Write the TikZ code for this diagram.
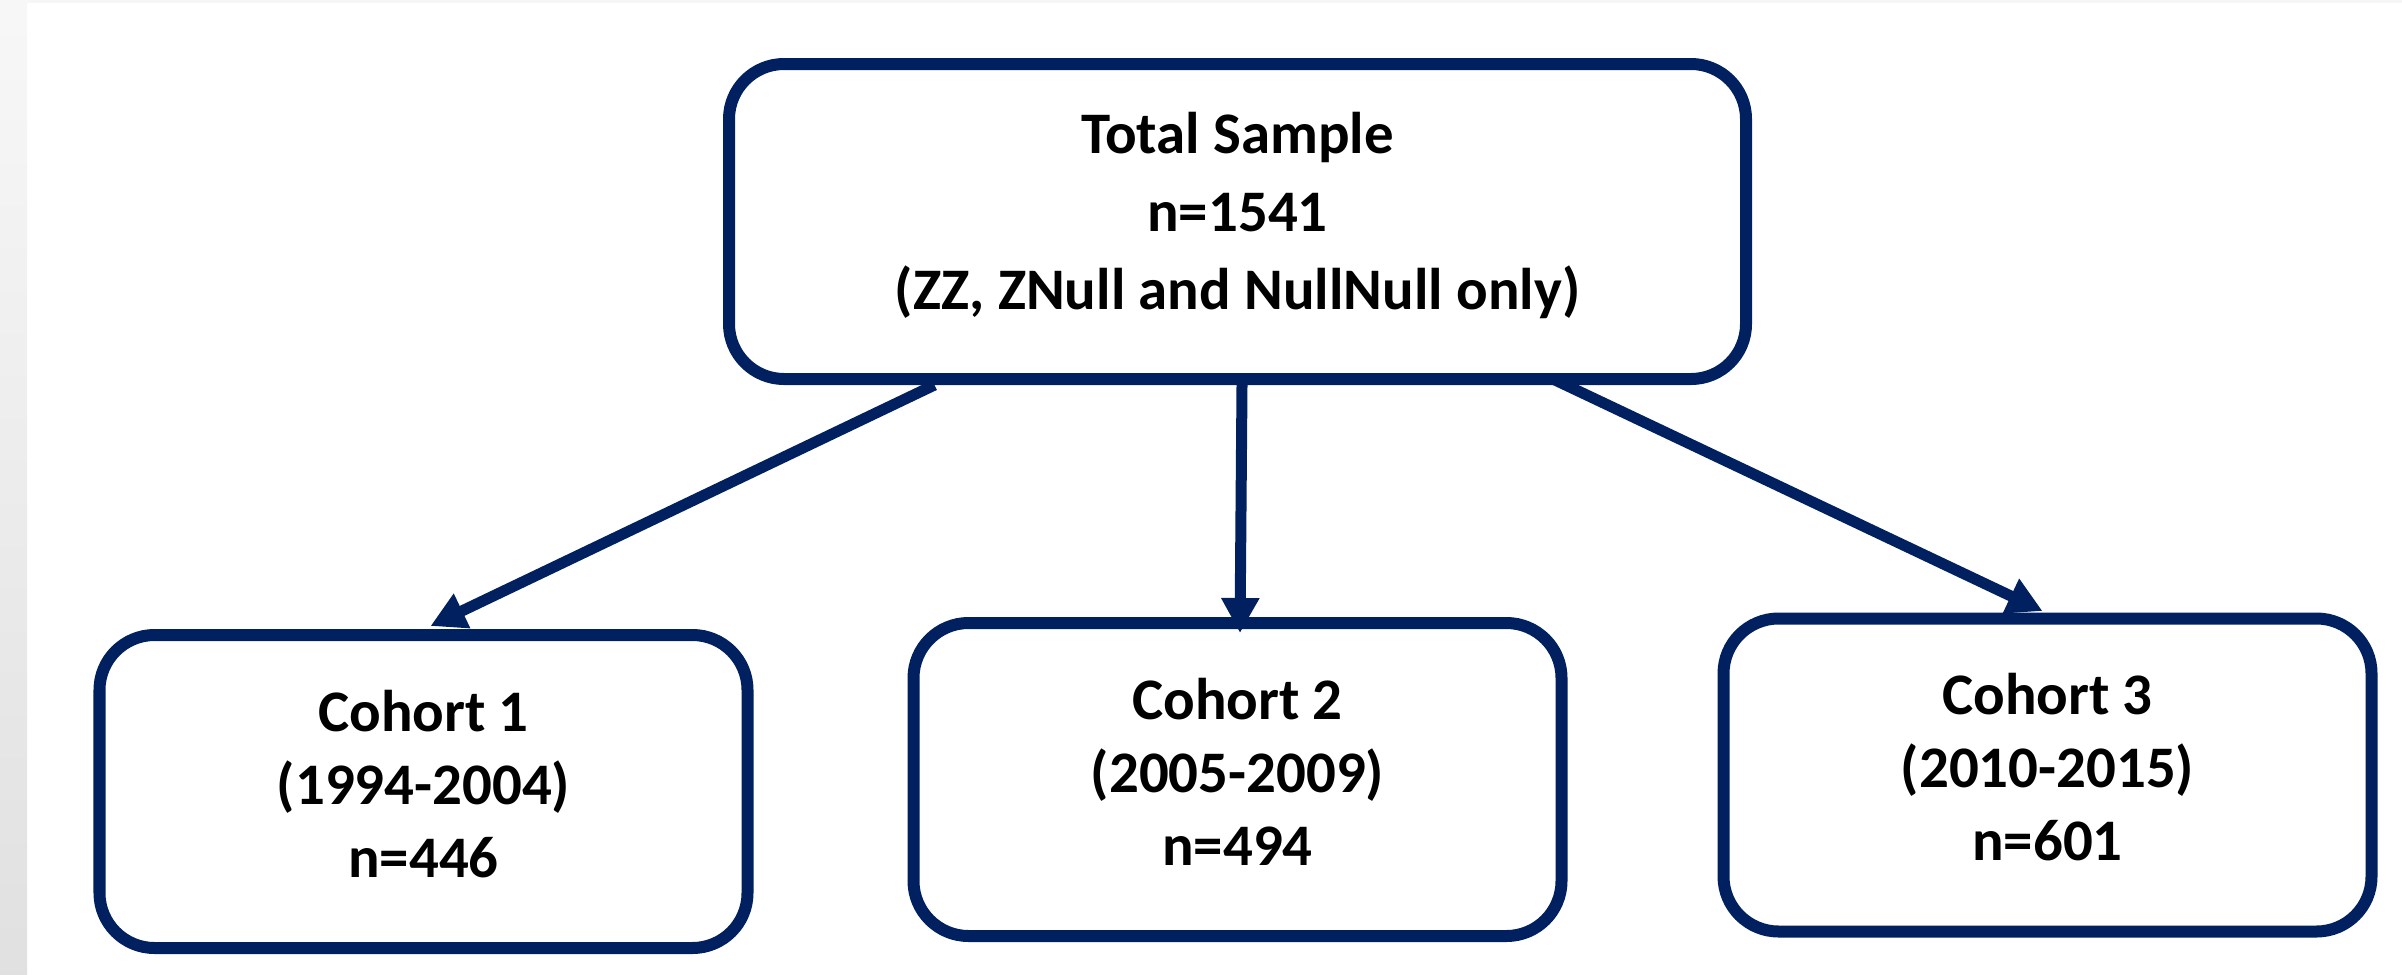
\documentclass[tikz,border=0pt]{standalone}
\usepackage{fontspec}
\setmainfont{Carlito}
\definecolor{mynavy}{HTML}{002060}
\usetikzlibrary{positioning,arrows.meta}

\begin{document}
\begin{tikzpicture}[line width=0.24cm,
    every node/.style={draw=mynavy,fill=white,rounded corners=1.1cm,align=center,
      font=\fontsize{33.5}{41.5}\selectfont\bfseries},
    topnode/.style={minimum width=20.34cm,minimum height=6.3cm,text depth=0.42cm,
      font=\fontsize{33.5}{44.5}\selectfont\bfseries},
    cohort/.style={minimum width=12.96cm,minimum height=6.26cm,text depth=0.32cm},
    link/.style={draw=mynavy,line width=0.22cm,-{Triangle[length=0.7cm,width=0.72cm]}},
    node distance=3.05cm
    ]
    \useasboundingbox (0,0) rectangle (48.04,-19.48);
    % grey strip at the left edge
    \shade[top color=gray!6,bottom color=gray!24] (0,0) rectangle (0.54,-19.48);
    \fill[gray!7] (0.54,0) rectangle (48.04,-0.06);

    \node (total) [topnode] at (24.75,-4.43) {Total Sample\\n=1541\\(ZZ, ZNull and NullNull only)};
    \node (c2) [cohort,below=4.64cm of total] {Cohort 2\\(2005-2009)\\n=494};
    \node (c1) [cohort,left=3.08cm of c2,yshift=-0.24cm] {Cohort 1\\(1994-2004)\\n=446};
    \node (c3) [cohort,right=3.0cm of c2,yshift=0.09cm] {Cohort 3\\(2010-2015)\\n=601};

    % the edges
    \draw[link] ([xshift=-6.06cm]total.south) -- ([xshift=0.14cm,yshift=0.06cm]c1.north);
    \draw[link] ([xshift=0.09cm]total.south) -- ([xshift=0.05cm,yshift=-0.32cm]c2.north);
    \draw[link] ([xshift=6.35cm,yshift=0.1cm]total.south) -- ([xshift=-0.1cm,yshift=0.03cm]c3.north);
\end{tikzpicture}
\end{document}
